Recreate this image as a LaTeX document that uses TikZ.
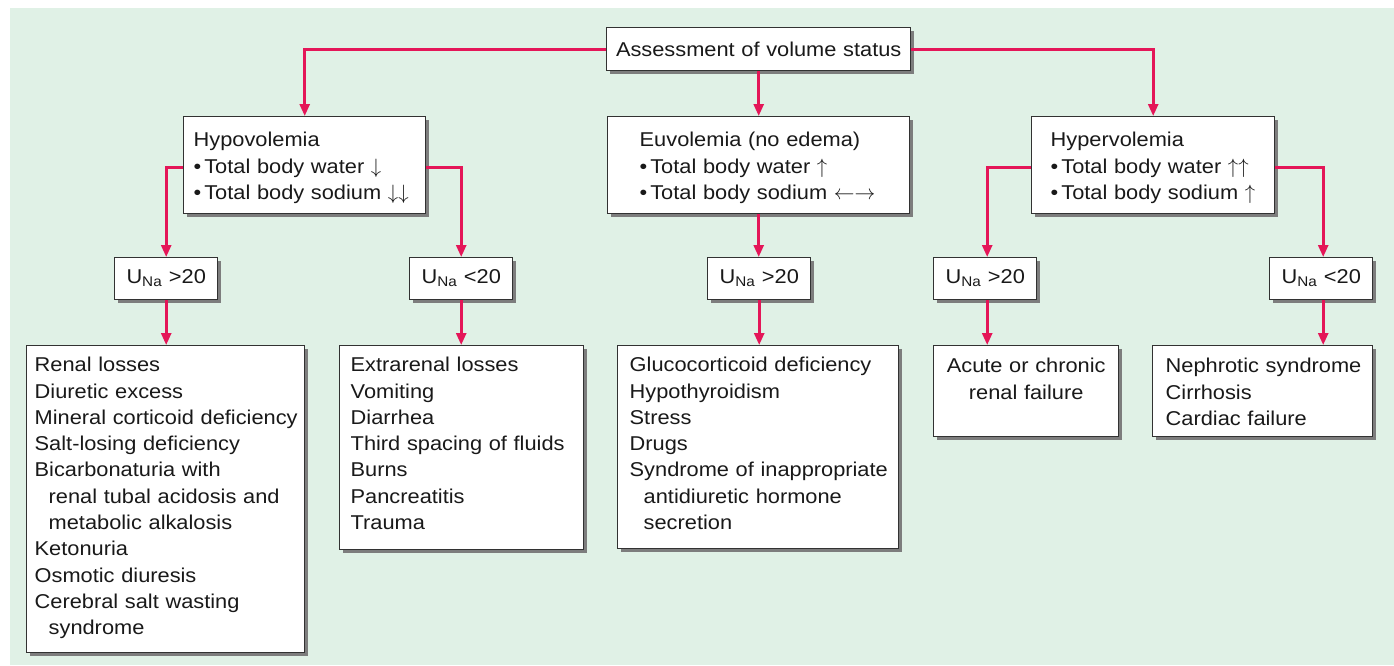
\documentclass[tikz,border=0pt]{standalone}
\usepackage{fontspec}
\setmainfont{Liberation Sans}[FakeStretch=1.09]
\usetikzlibrary{arrows.meta,shadows}
\definecolor{bgc}{RGB}{224,241,230}
\definecolor{pinkc}{RGB}{228,22,88}
\definecolor{boxc}{RGB}{50,50,50}
\definecolor{txtc}{RGB}{25,25,25}
\definecolor{shc}{RGB}{125,125,125}
\newcommand\una{U\textsubscript{Na}}
\newcommand\bul{\textbullet\hspace{3pt}}
\newcommand\ind{\hspace*{14pt}}
\newenvironment{lst}[1]{\renewcommand\arraystretch{1}\begin{tabular}[t]{@{\hspace*{#1}}l@{}}}{\end{tabular}}
\begin{document}
\begin{tikzpicture}[x=1pt,y=-1pt,
  box/.style={draw=boxc, line width=1.4pt, fill=white, anchor=north west,
    inner xsep=0pt, inner ysep=0pt, text=txtc,
    font=\fontsize{20}{26.3}\selectfont,
    drop shadow={shadow xshift=3pt, shadow yshift=-3pt, fill=shc, opacity=1}},
  lbox/.style={box},
  cbox/.style={box, align=center},
  conn/.style={draw=pinkc, line width=2.6pt, -{Triangle[length=12pt,width=10pt]}}]
\useasboundingbox (0,0) rectangle (1394,665);
\fill[white] (0,0) rectangle (1394,665);
\fill[bgc] (10,8) rectangle (1394,665);

% level 0
\node[cbox, text width=304pt, text height=29pt, text depth=14pt] (top) at (606,27)
  {Assessment of volume status};

% level 1
\node[lbox, text width=242pt, text height=30pt, text depth=67pt] (hypo) at (183,116)
  {\begin{lst}{10pt}Hypovolemia\\ \bul Total body water $\downarrow$\\ \bul Total body sodium $\downarrow\downarrow$\end{lst}};
\node[lbox, text width=302pt, text height=30pt, text depth=67pt] (euvo) at (607,116)
  {\begin{lst}{32pt}Euvolemia (no edema)\\ \bul Total body water $\uparrow$\\ \bul Total body sodium $\leftarrow\rightarrow$\end{lst}};
\node[lbox, text width=243pt, text height=30pt, text depth=67pt] (hyper) at (1031,116)
  {\begin{lst}{19pt}Hypervolemia\\ \bul Total body water $\uparrow\uparrow$\\ \bul Total body sodium $\uparrow$\end{lst}};

% level 2
\node[cbox, text width=103pt, text height=26pt, text depth=16pt] (u1) at (114,257) {\una\ >20};
\node[cbox, text width=103pt, text height=26pt, text depth=16pt] (u2) at (409,257) {\una\ <20};
\node[cbox, text width=103pt, text height=26pt, text depth=16pt] (u3) at (707,257) {\una\ >20};
\node[cbox, text width=103pt, text height=26pt, text depth=16pt] (u4) at (933,257) {\una\ >20};
\node[cbox, text width=103pt, text height=26pt, text depth=16pt] (u5) at (1269,257) {\una\ <20};

% level 3
\node[lbox, text width=278pt, text height=26pt, text depth=281pt] (renal) at (26,345)
  {\begin{lst}{8pt}Renal losses\\ Diuretic excess\\ Mineral corticoid deficiency\\
   Salt-losing deficiency\\ Bicarbonaturia with\\ \ind renal tubal acidosis and\\
   \ind metabolic alkalosis\\ Ketonuria\\ Osmotic diuresis\\
   Cerebral salt wasting\\ \ind syndrome\end{lst}};
\node[lbox, text width=244pt, text height=26pt, text depth=178pt] (extra) at (339,345)
  {\begin{lst}{11pt}Extrarenal losses\\ Vomiting\\ Diarrhea\\ Third spacing of fluids\\
   Burns\\ Pancreatitis\\ Trauma\end{lst}};
\node[lbox, text width=281pt, text height=26pt, text depth=177pt] (gluco) at (617,345)
  {\begin{lst}{12pt}Glucocorticoid deficiency\\ Hypothyroidism\\ Stress\\ Drugs\\
   Syndrome of inappropriate\\ \ind antidiuretic hormone\\ \ind secretion\end{lst}};
\node[cbox, text width=185pt, text height=27pt, text depth=64pt] (acute) at (933,345)
  {Acute or chronic\\ renal failure};
\node[lbox, text width=220pt, text height=27pt, text depth=64pt] (neph) at (1152,345)
  {\begin{lst}{13pt}Nephrotic syndrome\\ Cirrhosis\\ Cardiac failure\end{lst}};

% connectors
\draw[conn] (top.west) -| (hypo.north);
\draw[conn] (top.east) -| (hyper.north);
\draw[conn] (top.south) -- (euvo.north);
\draw[conn] ([yshift=-2.5pt]hypo.west) -| (u1.north);
\draw[conn] ([yshift=-2.5pt]hypo.east) -| (u2.north);
\draw[conn] (euvo.south) -- (euvo.south |- u3.north);
\draw[conn] ([yshift=-2.5pt]hyper.west) -| ([xshift=2pt]u4.north);
\draw[conn] ([yshift=-2.5pt]hyper.east) -| ([xshift=2pt]u5.north);
\draw[conn] (u1.south) -- (u1.south |- renal.north);
\draw[conn] (u2.south) -- (u2.south |- extra.north);
\draw[conn] (u3.south) -- (u3.south |- gluco.north);
\draw[conn] ([xshift=2pt]u4.south) -- ([xshift=2pt]u4.south |- acute.north);
\draw[conn] ([xshift=2pt]u5.south) -- ([xshift=2pt]u5.south |- neph.north);
\end{tikzpicture}
\end{document}
